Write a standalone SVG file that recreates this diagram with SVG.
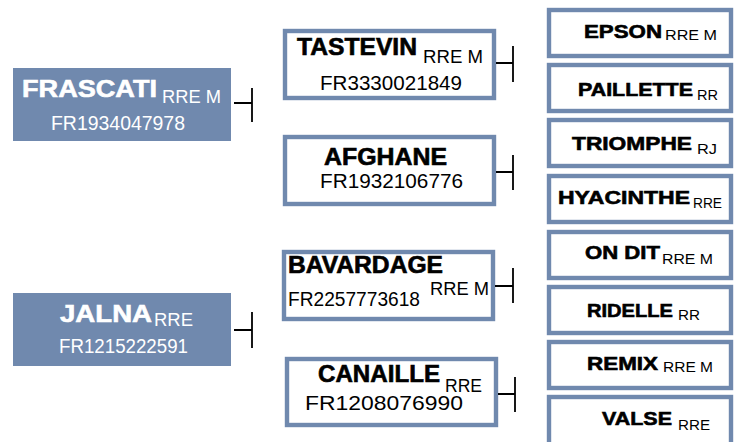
<svg xmlns="http://www.w3.org/2000/svg" width="745" height="442" viewBox="0 0 745 442">
<style>
text{font-family:"Liberation Sans",Arial,sans-serif}
.b{font-weight:bold;stroke-width:0.6}
.box{fill:#fff;stroke:#7089ae;stroke-width:4.4}
.fill{fill:#7089ae}
.w{fill:#fff}
.b.w{stroke:#fff}
.k{fill:#000}
.b.k{stroke:#000}
.c{stroke:#000;stroke-width:1.8;fill:none}
.t1{font-size:24px}
.t2{font-size:23px}
.t3{font-size:19px}
.s1{font-size:18px}
.s3{font-size:15px}
.id{font-size:19.5px}
</style>
<rect width="745" height="442" fill="#fff"/>
<g id="frascati">
<rect class="fill" x="13" y="68" width="218" height="73"/>
<text class="b t1 w" x="22" y="97" textLength="135" lengthAdjust="spacingAndGlyphs">FRASCATI</text>
<text class="s1 w" x="162" y="103" textLength="59" lengthAdjust="spacingAndGlyphs">RRE M</text>
<text class="id w" x="51" y="130" textLength="134" lengthAdjust="spacingAndGlyphs">FR1934047978</text>
</g>
<g id="jalna">
<rect class="fill" x="13" y="293" width="218" height="73"/>
<text class="b t1 w" x="60" y="322" textLength="92" lengthAdjust="spacingAndGlyphs">JALNA</text>
<text class="s1 w" x="154" y="326" textLength="39" lengthAdjust="spacingAndGlyphs">RRE</text>
<text class="id w" x="59" y="353" textLength="129" lengthAdjust="spacingAndGlyphs">FR1215222591</text>
</g>
<g id="tastevin">
<rect class="box" x="285" y="31" width="209" height="67"/>
<text class="b t2 k" x="297" y="55" textLength="120" lengthAdjust="spacingAndGlyphs">TASTEVIN</text>
<text class="s1 k" x="423" y="63" textLength="60" lengthAdjust="spacingAndGlyphs">RRE M</text>
<text class="id k" x="320" y="90" textLength="142" lengthAdjust="spacingAndGlyphs">FR3330021849</text>
</g>
<g id="afghane">
<rect class="box" x="285" y="137" width="209" height="67"/>
<text class="b t2 k" x="324" y="165" textLength="123" lengthAdjust="spacingAndGlyphs">AFGHANE</text>
<text class="id k" x="320" y="188" textLength="143" lengthAdjust="spacingAndGlyphs">FR1932106776</text>
</g>
<g id="bavardage">
<rect class="box" x="284" y="252" width="209" height="67"/>
<text class="b t2 k" x="288" y="273" textLength="155" lengthAdjust="spacingAndGlyphs">BAVARDAGE</text>
<text class="s1 k" x="430" y="295" textLength="59" lengthAdjust="spacingAndGlyphs">RRE M</text>
<text class="id k" x="288" y="306" textLength="132" lengthAdjust="spacingAndGlyphs">FR2257773618</text>
</g>
<g id="canaille">
<rect class="box" x="287" y="359" width="209" height="66"/>
<text class="b t2 k" x="318" y="382" textLength="122" lengthAdjust="spacingAndGlyphs">CANAILLE</text>
<text class="s1 k" x="445" y="392" textLength="37" lengthAdjust="spacingAndGlyphs">RRE</text>
<text class="id k" x="305" y="410" textLength="158" lengthAdjust="spacingAndGlyphs">FR1208076990</text>
</g>
<g id="epson">
<rect class="box" x="549" y="10" width="182" height="46"/>
<text class="b t3 k" x="584" y="38" textLength="78" lengthAdjust="spacingAndGlyphs">EPSON</text>
<text class="s3 k" x="665" y="40" textLength="52" lengthAdjust="spacingAndGlyphs">RRE M</text>
</g>
<g id="paillette">
<rect class="box" x="549" y="65" width="182" height="46"/>
<text class="b t3 k" x="578" y="96" textLength="115" lengthAdjust="spacingAndGlyphs">PAILLETTE</text>
<text class="s3 k" x="697" y="100" textLength="21" lengthAdjust="spacingAndGlyphs">RR</text>
</g>
<g id="triomphe">
<rect class="box" x="549" y="120" width="182" height="46"/>
<text class="b t3 k" x="572" y="150" textLength="120" lengthAdjust="spacingAndGlyphs">TRIOMPHE</text>
<text class="s3 k" x="697" y="154" textLength="20" lengthAdjust="spacingAndGlyphs">RJ</text>
</g>
<g id="hyacinthe">
<rect class="box" x="549" y="176" width="182" height="46"/>
<text class="b t3 k" x="558" y="204" textLength="132" lengthAdjust="spacingAndGlyphs">HYACINTHE</text>
<text class="s3 k" x="693" y="208" textLength="29" lengthAdjust="spacingAndGlyphs">RRE</text>
</g>
<g id="ondit">
<rect class="box" x="549" y="232" width="182" height="46"/>
<text class="b t3 k" x="585" y="259" textLength="75" lengthAdjust="spacingAndGlyphs">ON DIT</text>
<text class="s3 k" x="662" y="264" textLength="51" lengthAdjust="spacingAndGlyphs">RRE M</text>
</g>
<g id="ridelle">
<rect class="box" x="549" y="287" width="182" height="46"/>
<text class="b t3 k" x="587" y="317" textLength="86" lengthAdjust="spacingAndGlyphs">RIDELLE</text>
<text class="s3 k" x="678" y="320" textLength="22" lengthAdjust="spacingAndGlyphs">RR</text>
</g>
<g id="remix">
<rect class="box" x="549" y="342" width="182" height="46"/>
<text class="b t3 k" x="587" y="370" textLength="71" lengthAdjust="spacingAndGlyphs">REMIX</text>
<text class="s3 k" x="663" y="372" textLength="50" lengthAdjust="spacingAndGlyphs">RRE M</text>
</g>
<g id="valse">
<rect class="box" x="549" y="397" width="182" height="50"/>
<text class="b t3 k" x="602" y="425" textLength="70" lengthAdjust="spacingAndGlyphs">VALSE</text>
<text class="s3 k" x="678" y="430" textLength="32" lengthAdjust="spacingAndGlyphs">RRE</text>
</g>
<g id="connectors" class="c">
<path d="M234 103H252M252 88V122"/>
<path d="M234 330H252M252 312V348"/>
<path d="M496 63H513M513 46V82"/>
<path d="M496 172H513M513 155V190"/>
<path d="M495 286H513M513 268V303"/>
<path d="M498 394H515M515 377V412"/>
</g>
</svg>
